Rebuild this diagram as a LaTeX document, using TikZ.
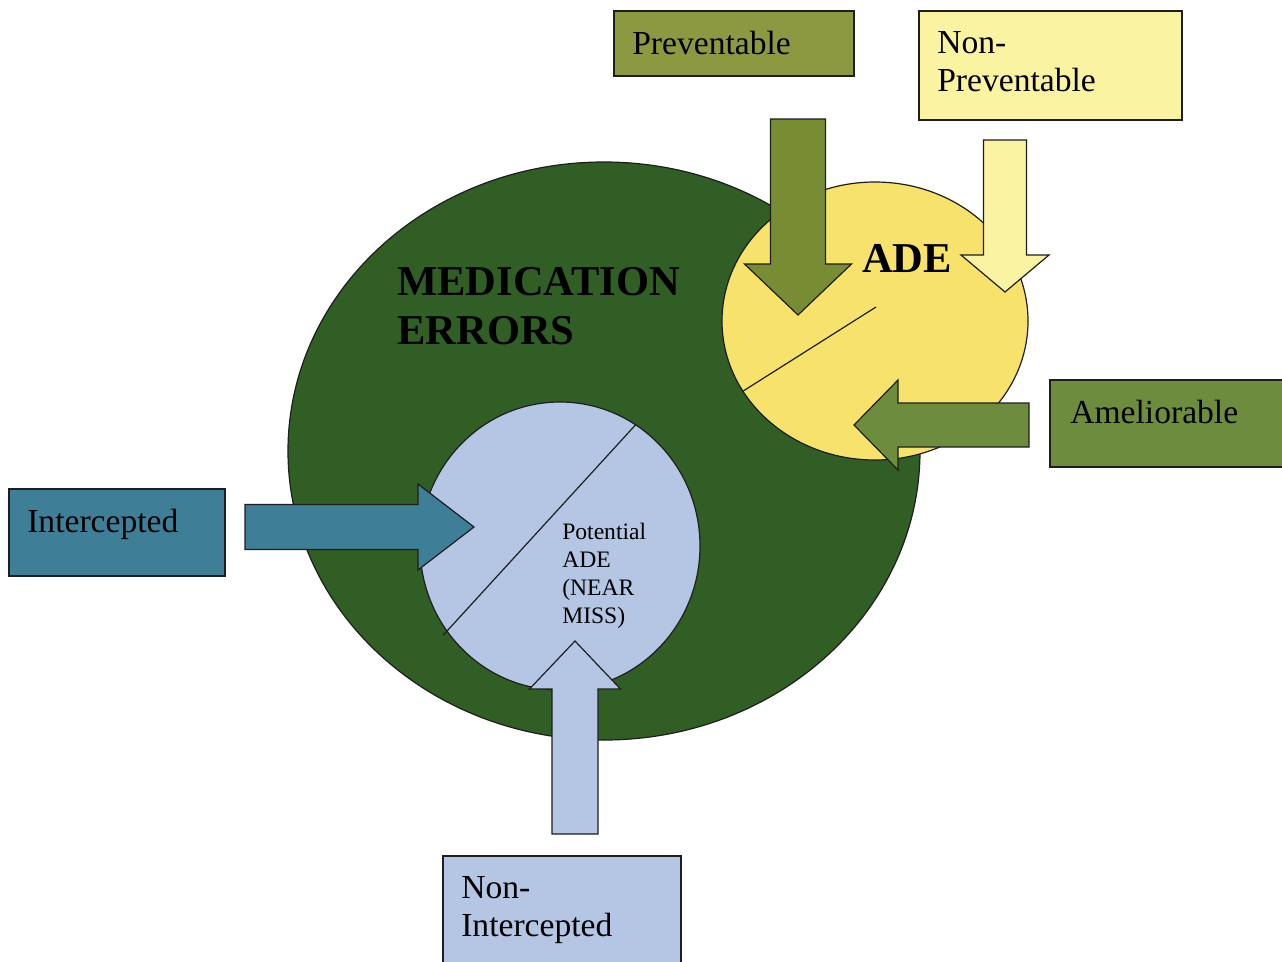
\documentclass[tikz,border=0pt]{standalone}
\usepackage{fontspec}
\setmainfont{Liberation Serif}
\usetikzlibrary{shapes.geometric,calc}
\definecolor{errgreen}{HTML}{305E25}
\definecolor{adeyellow}{HTML}{F7E26C}
\definecolor{nearblue}{HTML}{B4C6E4}
\definecolor{olivebox}{HTML}{8C9940}
\definecolor{olivearrow}{HTML}{788C34}
\definecolor{paleyellow}{HTML}{FAF3A2}
\definecolor{midgreen}{HTML}{6E8C3E}
\definecolor{intblue}{HTML}{3E7E96}
\definecolor{edge}{HTML}{1E1E1E}
\newcommand\pxu{0.75pt}

\begin{document}
\begin{tikzpicture}[x=0.75pt,y=-0.75pt,
 box/.style={draw=edge,line width=1.3pt,anchor=north west,inner sep=0pt},
 boxtext/.style={anchor=north west,inner sep=0pt,align=left,font=\fontsize{25.2}{28.5}\selectfont},
 blob/.style={ellipse,draw=edge,line width=0.9pt,inner sep=0pt},
 heading/.style={anchor=north west,inner sep=0pt,align=left,font=\bfseries\fontsize{31.9}{36.75}\selectfont},
 pics/bigarrow/.style n args={5}{code={
  % length / shaft half width / head half width / head length / fill
  \filldraw[fill=#5,draw=edge,line width=0.9pt,line join=miter]
   (0,-#2) -- ({#1-#4},-#2) -- ({#1-#4},-#3) -- (#1,0) -- ({#1-#4},#3) -- ({#1-#4},#2) -- (0,#2) -- cycle;
 }}
]
\fill[white] (0,0) rectangle (1282,961);
\useasboundingbox (0,0) rectangle (1282,961);

% the three sets
\node[blob,fill=errgreen,minimum width=632*\pxu,minimum height=578*\pxu] (errors) at (604,451) {};
\node[blob,fill=nearblue,minimum width=280*\pxu,minimum height=288*\pxu] (potential) at (560,546) {};
\node[blob,fill=adeyellow,minimum width=306*\pxu,minimum height=278*\pxu] (ade) at (875,321) {};
\draw[edge,line width=0.9pt,shorten >=-4pt] (potential.58) -- (potential.217);
\draw[edge,line width=0.9pt] ($(ade.center)+(1,-14)$) -- (ade.208);

\node[heading] (errtxt) at (397,267) {MEDICATION\\ERRORS};
\node[heading] (adetxt) at (862,244) {ADE};
\node[anchor=north west,inner sep=0pt,align=left,font=\fontsize{17.7}{21}\selectfont] (pottxt) at (562,523) {Potential\\ADE\\(NEAR\\MISS)};

% category boxes
\node[box,fill=olivebox,minimum width=240*\pxu,minimum height=65*\pxu] (prev) at (613,10) {};
\node[boxtext] (prevtxt) at ([shift={(19,21)}]prev.north west) {Preventable};
\node[box,fill=paleyellow,minimum width=263*\pxu,minimum height=109*\pxu] (nonprev) at (918,10) {};
\node[boxtext] (nonprevtxt) at ([shift={(19,21)}]nonprev.north west) {Non-\\Preventable};
\node[box,fill=midgreen,minimum width=245*\pxu,minimum height=87*\pxu] (amel) at (1049,379) {};
\node[boxtext] (ameltxt) at ([shift={(21,21)}]amel.north west) {Ameliorable};
\node[box,fill=intblue,minimum width=216*\pxu,minimum height=87*\pxu] (inter) at (8,488) {};
\node[boxtext] (intertxt) at ([shift={(19,21)}]inter.north west) {Intercepted};
\node[box,fill=nearblue,minimum width=238*\pxu,minimum height=120*\pxu] (nonint) at (442,855) {};
\node[boxtext] (noninttxt) at ([shift={(19,21)}]nonint.north west) {Non-\\Intercepted};

% block arrows into the sets
\pic[rotate=-90] at (798,119) {bigarrow={196}{27.5}{53.5}{51}{olivearrow}};
\pic[rotate=-90] at (1005,140) {bigarrow={152}{21.5}{44}{37}{paleyellow}};
\pic[rotate=180] at (1029,425) {bigarrow={175}{22}{45}{44}{midgreen}};
\pic at (245,527) {bigarrow={229}{22.5}{43}{56}{intblue}};
\pic[rotate=90] at (575,834) {bigarrow={193}{23}{45.5}{48}{nearblue}};
\end{tikzpicture}
\end{document}
